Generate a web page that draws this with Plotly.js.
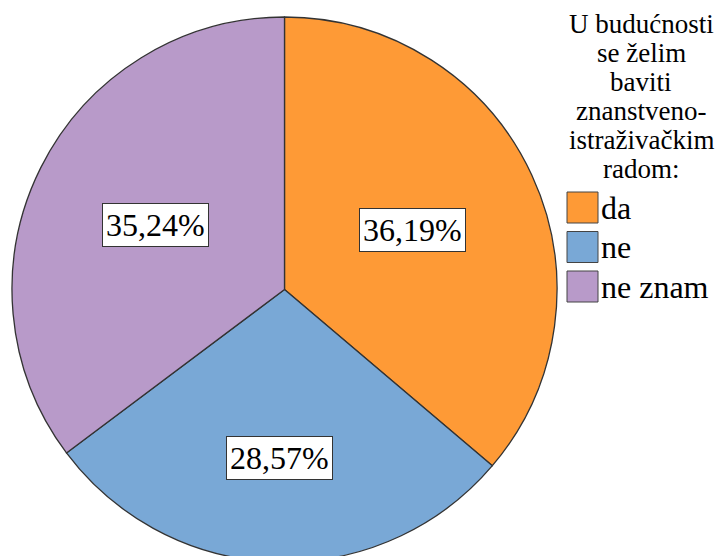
<!DOCTYPE html>
<html>
<head>
<meta charset="utf-8">
<script src="https://cdn.plot.ly/plotly-3.0.1.min.js"></script>
<style>
html, body { margin: 0; padding: 0; overflow: hidden; background: #fff; }
#chart { width: 720px; height: 580px; }
</style>
</head>
<body>
<div id="chart"></div>
<script>
// ---- data ----
const categories = ["da", "ne", "ne znam"];
const counts = [38, 30, 37];
const legendTitleLines = ["U budućnosti", "se želim", "baviti", "znanstveno-", "istraživačkim", "radom:"];

// ---- style ----
const colors = ["#fe9a36", "#79a8d6", "#b89ac9"];
const W = 720, H = 580;
const FONT = "Liberation Serif";
const pieLeft = 12, pieRight = 557, pieTop = 17;
const R = (pieRight - pieLeft) / 2;
const cx = pieLeft + R, cy = pieTop + R;
const labelRadius = [0.518, 0.617, 0.528];

const total = counts.reduce((a, b) => a + b, 0);
const pctText = counts.map(v => (100 * v / total).toFixed(2).replace(".", ",") + "%");

const annotations = [];
const shapes = [];

// percentage boxes, positioned from each slice's mid-angle
let cum = 0;
counts.forEach((v, i) => {
  const mid = (cum + v / 2) / total * 2 * Math.PI;
  cum += v;
  const r = R * labelRadius[i];
  const px = cx + r * Math.sin(mid);
  const py = cy - r * Math.cos(mid);
  annotations.push({
    xref: "paper", yref: "paper",
    x: px / W, y: 1 - py / H,
    xanchor: "center", yanchor: "middle",
    text: pctText[i], showarrow: false,
    font: { family: FONT, size: 32, color: "#000" },
    bgcolor: "#fff", bordercolor: "#333", borderwidth: 1, borderpad: 3
  });
});

// legend title lines
const titleCx = 641, titleTop = 24, titleStep = 29;
legendTitleLines.forEach((t, i) => {
  annotations.push({
    xref: "paper", yref: "paper",
    x: titleCx / W, y: 1 - (titleTop + i * titleStep) / H,
    xanchor: "center", yanchor: "middle",
    text: t, showarrow: false,
    font: { family: FONT, size: 27, color: "#000" }
  });
});

// legend entries
const legX = 567, legY = 192, sq = 31, legStep = 39.5;
categories.forEach((c, i) => {
  const y0 = legY + i * legStep;
  shapes.push({
    type: "rect", xref: "paper", yref: "paper",
    x0: legX / W, x1: (legX + sq) / W,
    y0: 1 - y0 / H, y1: 1 - (y0 + sq) / H,
    fillcolor: colors[i], line: { color: "#444", width: 1 }
  });
  annotations.push({
    xref: "paper", yref: "paper",
    x: (legX + sq + 1) / W, y: 1 - (y0 + sq / 2) / H,
    xanchor: "left", yanchor: "middle",
    text: c, showarrow: false,
    font: { family: FONT, size: 32, color: "#000" }
  });
});

const trace = {
  type: "pie",
  labels: categories,
  values: counts,
  sort: false,
  direction: "clockwise",
  rotation: 0,
  marker: { colors: colors, line: { color: "#333", width: 1.3 } },
  textinfo: "none",
  hoverinfo: "label+percent",
  showlegend: false,
  domain: { x: [pieLeft / W, pieRight / W], y: [1 - (pieTop + 2 * R) / H, 1 - pieTop / H] }
};

const layout = {
  width: W, height: H,
  margin: { l: 0, r: 0, t: 0, b: 0 },
  paper_bgcolor: "#fff",
  font: { family: FONT },
  showlegend: false,
  annotations: annotations,
  shapes: shapes
};

Plotly.newPlot("chart", [trace], layout, { displayModeBar: false, staticPlot: true });
</script>
</body>
</html>
